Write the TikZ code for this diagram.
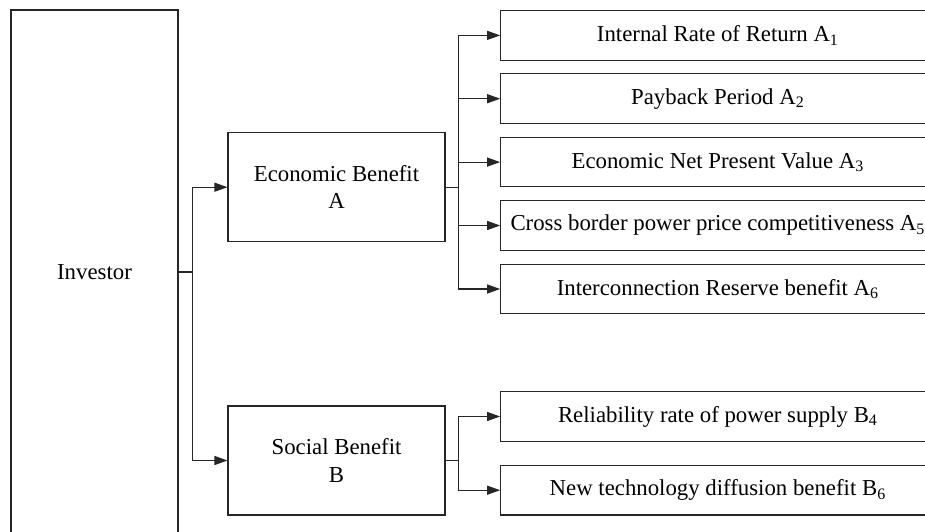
\documentclass[tikz,border=0pt]{standalone}
\usepackage{fontspec}
\setmainfont{Liberation Serif}
\usetikzlibrary{arrows.meta}
\begin{document}
\begin{tikzpicture}[x=1pt,y=-1pt,
  box/.style={draw=black!85, line width=1.1pt, rectangle, inner sep=0pt, align=center,
    font=\fontsize{22.8}{27.5}\selectfont},
  midbox/.style={box, minimum width=217pt, minimum height=109pt},
  leaf/.style={box, minimum width=434pt, minimum height=49.5pt},
  conn/.style={draw=black!85, line width=1.1pt, -{Triangle[length=13pt,width=9pt]}}
]
\useasboundingbox (0,0) rectangle (925,532);
\clip (0,0) rectangle (925,532);
\fill[white] (0,0) rectangle (925,532);

\node[box, minimum width=167pt, minimum height=524pt] (inv) at (94.5,272) {Investor};
\node[midbox] (econ) at (336.5,187.2) {Economic Benefit\\A};
\node[midbox] (soc) at (336.5,460.5) {Social Benefit\\B};

\node[leaf] (a1) at (717.7,35.4) {Internal Rate of Return A\textsubscript{1}};
\node[leaf] (a2) at (717.7,98.7) {Payback Period A\textsubscript{2}};
\node[leaf] (a3) at (717.7,162.1) {Economic Net Present Value A\textsubscript{3}};
\node[leaf] (a5) at (717.7,225.5) {Cross border power price competitiveness A\textsubscript{5}};
\node[leaf] (a6) at (717.7,289) {Interconnection Reserve benefit A\textsubscript{6}};
\node[leaf] (b4) at (717.7,416.5) {Reliability rate of power supply B\textsubscript{4}};
\node[leaf] (b6) at (717.7,490.2) {New technology diffusion benefit B\textsubscript{6}};

\draw[conn] (inv.east) -- ++(13.7,0) |- (econ.west);
\draw[conn] (inv.east) -- ++(13.7,0) |- (soc.west);

\foreach \t in {a1,a2,a3,a5,a6}
  \draw[conn] (econ.east) -- ++(13.3,0) |- (\t.west);
\foreach \t in {b4,b6}
  \draw[conn] (soc.east) -- ++(13.3,0) |- (\t.west);
\end{tikzpicture}
\end{document}
